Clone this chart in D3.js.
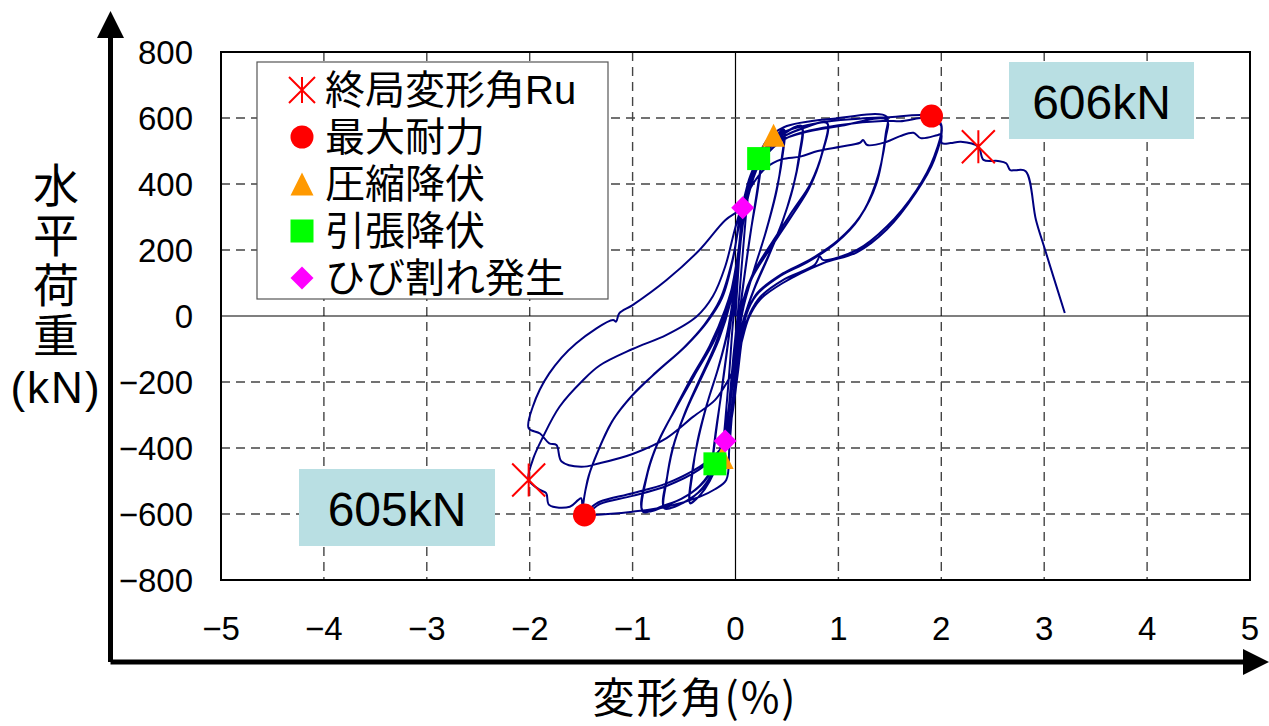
<!DOCTYPE html>
<html>
<head>
<meta charset="utf-8">
<script src="https://cdn.jsdelivr.net/npm/d3@7"></script>
<style>
  html, body { margin: 0; padding: 0; background: #fff; }
  svg { display: block; }
  .tick-label { font-family: "Liberation Sans", Arial, sans-serif; font-size: 33px; fill: #000; }
  .jp { font-family: "Noto Sans CJK JP", sans-serif; fill: #000; }
  .legend-label { font-family: "Liberation Sans", "Noto Sans CJK JP", sans-serif; font-size: 40px; fill: #000; }
</style>
</head>
<body>
<svg id="chart" width="1269" height="726"></svg>
<script>
// deformation angle (%) / horizontal load (kN)
const cycle025 = [
    [0, 0], [0.03, 150], [0.07, 328], [0.12, 370],
    [0.1, 300], [0.06, 150], [0.02, 0], [-0.02, -120], [-0.06, -260], [-0.1, -379], [-0.12, -400],
    [-0.1, -320], [-0.06, -170], [-0.03, -40], [0, 60], [0.04, 190], [0.09, 340], [0.15, 420], [0.25, 480],
    [0.22, 400], [0.16, 280], [0.1, 150], [0.05, 30], [0.01, -90], [-0.05, -250], [-0.1, -360], [-0.15, -420], [-0.22, -455],
    [-0.2, -380], [-0.15, -260], [-0.09, -120], [-0.04, 0], [0.01, 120], [0.06, 270], [0.12, 380], [0.18, 440], [0.25, 478],
    [0.22, 390], [0.15, 260], [0.09, 130], [0.04, 10], [0, -110], [-0.06, -270], [-0.12, -380], [-0.17, -430], [-0.22, -452]
];
const cycle050 = [
    [-0.2, -370], [-0.14, -240], [-0.08, -100], [-0.03, 20], [0.02, 150], [0.07, 290], [0.14, 400], [0.24, 480], [0.35, 530], [0.47, 565],
    [0.45, 480], [0.4, 380], [0.3, 260], [0.18, 140], [0.08, 30], [0.02, -80], [-0.03, -200], [-0.08, -320], [-0.15, -420], [-0.25, -500], [-0.35, -545], [-0.44, -568],
    [-0.42, -480], [-0.37, -380], [-0.28, -270], [-0.17, -160], [-0.08, -50], [-0.02, 60], [0.03, 190], [0.09, 320], [0.17, 420], [0.28, 500], [0.38, 540], [0.47, 562],
    [0.45, 470], [0.39, 370], [0.29, 250], [0.17, 130], [0.07, 20], [0.01, -90], [-0.04, -220], [-0.09, -340], [-0.17, -440], [-0.27, -510], [-0.36, -548], [-0.44, -566]
];
const cycle067 = [
    [-0.42, -470], [-0.36, -370], [-0.27, -260], [-0.16, -150], [-0.07, -40], [-0.01, 70], [0.04, 200], [0.1, 330], [0.2, 440], [0.33, 510], [0.48, 555], [0.64, 576],
    [0.62, 490], [0.56, 390], [0.46, 290], [0.33, 190], [0.19, 90], [0.08, -10], [0.01, -120], [-0.05, -260], [-0.11, -380], [-0.2, -470], [-0.34, -530], [-0.5, -565], [-0.69, -583],
    [-0.67, -500], [-0.61, -400], [-0.5, -300], [-0.36, -200], [-0.2, -90], [-0.08, 20], [0, 130], [0.05, 250], [0.12, 370], [0.24, 470], [0.4, 535], [0.64, 574],
    [0.62, 480], [0.55, 380], [0.45, 280], [0.32, 180], [0.18, 80], [0.07, -20], [0, -140], [-0.06, -280], [-0.13, -400], [-0.24, -485], [-0.4, -545], [-0.69, -581]
];
const cycle100 = [
    [-0.66, -480], [-0.59, -380], [-0.47, -280], [-0.32, -180], [-0.16, -70], [-0.05, 40], [0.02, 160], [0.07, 280], [0.14, 390], [0.26, 480], [0.45, 540], [0.68, 572], [0.89, 586],
    [0.85, 503], [0.73, 402], [0.56, 321], [0.37, 230], [0.17, 129], [0.075, 48], [0.02, -60], [-0.03, -200], [-0.08, -320], [-0.16, -420], [-0.3, -500], [-0.5, -550], [-0.7, -575], [-0.9, -593],
    [-0.87, -497], [-0.77, -396], [-0.61, -295], [-0.44, -194], [-0.25, -90], [-0.1, 20], [0, 130], [0.05, 250], [0.11, 360], [0.22, 460], [0.4, 530], [0.65, 568], [0.89, 584],
    [0.84, 490], [0.72, 390], [0.55, 305], [0.36, 215], [0.16, 115], [0.06, 30], [0.01, -80], [-0.04, -220], [-0.1, -340], [-0.19, -440], [-0.35, -515], [-0.6, -565], [-0.9, -590]
];
const cycle150 = [
    [-0.86, -480], [-0.75, -380], [-0.58, -280], [-0.4, -180], [-0.2, -70], [-0.07, 40], [0.02, 180], [0.08, 330], [0.18, 450], [0.3, 530], [0.47, 572], [0.95, 598], [1.47, 604],
    [1.46, 553], [1.37, 402], [1.21, 301], [1.0, 230], [0.72, 170], [0.46, 129], [0.21, 69], [0.11, 8], [0.04, -100], [-0.02, -250], [-0.06, -400], [-0.09, -497], [-0.2, -525], [-0.35, -548], [-0.67, -578], [-1.0, -593], [-1.39, -603], [-1.47, -603],
    [-1.44, -500], [-1.35, -420], [-1.2, -320], [-1.0, -240], [-0.77, -170], [-0.5, -95], [-0.3, -25], [-0.15, 50], [-0.03, 170], [0.06, 320], [0.15, 430], [0.3, 510], [0.63, 553], [1.0, 575], [1.47, 594],
    [1.46, 540], [1.36, 400], [1.2, 295], [0.98, 222], [0.7, 163], [0.44, 122], [0.2, 62], [0.1, 0], [0.03, -110], [-0.03, -260], [-0.1, -380], [-0.18, -416], [-0.35, -457], [-0.67, -507], [-1.0, -537], [-1.32, -563], [-1.47, -590]
];
const cycle200 = [
    [-1.43, -490], [-1.33, -405], [-1.18, -310], [-0.98, -232], [-0.75, -165], [-0.48, -90], [-0.28, -20], [-0.13, 55], [-0.02, 180], [0.06, 330], [0.2, 460], [0.4, 545], [0.8, 585], [1.2, 598], [1.47, 602], [1.9, 606], [2.0, 579],
    [1.93, 483], [1.76, 382], [1.47, 271], [1.18, 200], [0.85, 170], [0.82, 180], [0.77, 155], [0.46, 109], [0.24, 58], [0.14, 8], [0.075, -52], [0.02, -180], [-0.05, -330], [-0.12, -400], [-0.35, -465], [-0.67, -515], [-1.0, -545], [-1.32, -570], [-1.47, -603],
    [-1.5, -552], [-1.53, -558], [-1.61, -578], [-1.81, -573], [-1.84, -537], [-1.9, -527], [-2.01, -497],
    [-1.97, -436], [-1.87, -366], [-1.71, -275], [-1.48, -194], [-1.32, -150], [-1.0, -100], [-0.67, -57], [-0.38, -2], [-0.22, 60], [-0.1, 150], [0, 270], [0.1, 370], [0.25, 470], [0.5, 540], [1.0, 578], [1.47, 592], [1.6, 590], [1.9, 600], [2.0, 575],
    [1.93, 472], [1.75, 372], [1.47, 262], [1.18, 193], [0.85, 160], [0.46, 100], [0.24, 50], [0.13, -5], [0.05, -90], [-0.03, -170], [-0.1, -210], [-0.2, -255], [-0.41, -305], [-0.67, -370], [-1.0, -418], [-1.32, -446], [-1.5, -457], [-1.69, -441], [-1.74, -391], [-1.81, -386], [-1.9, -356], [-2.01, -340]
];
const finalPush = [
    [-1.97, -275], [-1.81, -174], [-1.55, -83], [-1.19, -12], [-1.16, -17], [-1.13, 8], [-1.0, 33], [-0.67, 109], [-0.35, 200], [-0.1, 290], [0.07, 330], [0.15, 390], [0.3, 450], [0.45, 475],
    [0.63, 483], [0.8, 500], [1.02, 513], [1.21, 525], [1.24, 533], [1.28, 518], [1.47, 528], [1.6, 545], [1.73, 555], [1.8, 539], [1.96, 548], [2.0, 551],
    [2.005, 524], [2.09, 524], [2.19, 528], [2.36, 513], [2.41, 473], [2.55, 470], [2.63, 463], [2.67, 442], [2.72, 442], [2.82, 439], [2.92, 291], [3.0, 209], [3.2, 9]
];

// event points
const ultimatePts = [[2.36, 513], [-2.01, -497]];
const maxLoadPts = [[1.905, 606], [-1.468, -603]];
const compYieldPts = [[0.37, 548], [-0.13, -429]];
const tensYieldPts = [[0.225, 477], [-0.2, -448]];
const crackPts = [[0.07, 328], [-0.1, -379]];

const xTicks = [-5, -4, -3, -2, -1, 0, 1, 2, 3, 4, 5];
const yTicks = [-800, -600, -400, -200, 0, 200, 400, 600, 800];
const legendLabels = ['終局変形角Ru', '最大耐力', '圧縮降伏', '引張降伏', 'ひび割れ発生'];
const peakLabels = ['606kN', '605kN'];

const RED = '#ff0000', ORANGE = '#ff9900', GREEN = '#00ff00', MAGENTA = '#ff00ff', NAVY = '#000080';

const svg = d3.select('#chart');
const x = d3.scaleLinear().domain([-5, 5]).range([221, 1250]);
const y = d3.scaleLinear().domain([-800, 800]).range([580, 52]);

// grid
const grid = svg.append('g');
grid.selectAll('.vg')
    .data(xTicks.filter(d => d !== -5 && d !== 5))
    .enter()
    .append('line')
    .attr('x1', d => x(d)).attr('x2', d => x(d))
    .attr('y1', y(800)).attr('y2', y(-800))
    .attr('stroke', d => d === 0 ? '#000' : '#444')
    .attr('stroke-width', d => d === 0 ? 1.2 : 1.4)
    .attr('stroke-dasharray', d => d === 0 ? null : '9,6');
grid.selectAll('.hg')
    .data(yTicks.filter(d => d !== -800 && d !== 800))
    .enter()
    .append('line')
    .attr('x1', x(-5)).attr('x2', x(5))
    .attr('y1', d => y(d)).attr('y2', d => y(d))
    .attr('stroke', d => d === 0 ? '#000' : '#444')
    .attr('stroke-width', d => d === 0 ? 1.2 : 1.4)
    .attr('stroke-dasharray', d => d === 0 ? null : '9,6');

svg.append('rect')
    .attr('x', x(-5)).attr('y', y(800))
    .attr('width', x(5) - x(-5)).attr('height', y(-800) - y(800))
    .attr('fill', 'none').attr('stroke', '#000').attr('stroke-width', 2);

// tick labels
svg.append('g').selectAll('text')
    .data(xTicks)
    .enter()
    .append('text')
    .attr('class', 'tick-label')
    .attr('x', d => x(d))
    .attr('y', 640)
    .attr('text-anchor', 'middle')
    .text(d => d < 0 ? '\u2212' + Math.abs(d) : d);
svg.append('g').selectAll('text')
    .data(yTicks)
    .enter()
    .append('text')
    .attr('class', 'tick-label')
    .attr('x', 193)
    .attr('y', d => y(d) + 12)
    .attr('text-anchor', 'end')
    .text(d => d < 0 ? '\u2212' + Math.abs(d) : d);

// hysteresis curve
const allPts = [].concat(cycle025, cycle050, cycle067, cycle100, cycle150, cycle200, finalPush);
const line = d3.line()
    .x(d => x(d[0]))
    .y(d => y(d[1]))
    .curve(d3.curveCatmullRom.alpha(0.5));
svg.append('path')
    .attr('d', line(allPts))
    .attr('fill', 'none')
    .attr('stroke', NAVY)
    .attr('stroke-width', 2)
    .attr('stroke-linejoin', 'round');

// markers
const asterisk = (cx, cy, r) => `M${cx},${cy - r}L${cx},${cy + r}M${cx - r},${cy - r}L${cx + r},${cy + r}M${cx - r},${cy + r}L${cx + r},${cy - r}`;
const triangle = (cx, cy, s) => `M${cx},${cy - s / 2}L${cx + s / 2},${cy + s / 2}L${cx - s / 2},${cy + s / 2}Z`;
const diamond = (cx, cy, s) => `M${cx},${cy - s / 2}L${cx + s / 2},${cy}L${cx},${cy + s / 2}L${cx - s / 2},${cy}Z`;

const marks = svg.append('g');
marks.selectAll('.tri').data(compYieldPts).enter().append('path')
    .attr('d', d => triangle(x(d[0]), y(d[1]), 23)).attr('fill', ORANGE);
marks.selectAll('.sq').data(tensYieldPts).enter().append('rect')
    .attr('x', d => x(d[0]) - 11.5).attr('y', d => y(d[1]) - 11.5)
    .attr('width', 23).attr('height', 23).attr('fill', GREEN);
marks.selectAll('.dia').data(crackPts).enter().append('path')
    .attr('d', d => diamond(x(d[0]), y(d[1]), 23)).attr('fill', MAGENTA);
marks.selectAll('.cir').data(maxLoadPts).enter().append('circle')
    .attr('cx', d => x(d[0])).attr('cy', d => y(d[1])).attr('r', 11.5).attr('fill', RED);
marks.selectAll('.ast').data(ultimatePts).enter().append('path')
    .attr('d', d => asterisk(x(d[0]), y(d[1]), 16.5))
    .attr('fill', 'none').attr('stroke', RED).attr('stroke-width', 2);

// peak value boxes
const boxes = [
    { label: peakLabels[0], x0: 1009, y0: 62, w: 185, h: 77 },
    { label: peakLabels[1], x0: 299, y0: 469, w: 196, h: 77 }
];
boxes.forEach(b => {
    svg.append('rect').attr('x', b.x0).attr('y', b.y0).attr('width', b.w).attr('height', b.h).attr('fill', '#b9dfe3');
    svg.append('text')
        .attr('x', b.x0 + b.w / 2).attr('y', b.y0 + 57)
        .attr('text-anchor', 'middle')
        .style('font-family', '"Liberation Sans", Arial, sans-serif')
        .style('font-size', '48px')
        .text(b.label);
});

// legend
const legend = svg.append('g');
legend.append('rect')
    .attr('x', 257).attr('y', 62).attr('width', 351).attr('height', 237)
    .attr('fill', '#fff').attr('stroke', '#555').attr('stroke-width', 1.2);
const rowY = i => 90 + i * 47;
const mx = 302;
legend.append('path').attr('d', asterisk(mx, rowY(0), 13)).attr('fill', 'none').attr('stroke', RED).attr('stroke-width', 2);
legend.append('circle').attr('cx', mx).attr('cy', rowY(1)).attr('r', 11.5).attr('fill', RED);
legend.append('path').attr('d', triangle(mx, rowY(2), 23)).attr('fill', ORANGE);
legend.append('rect').attr('x', mx - 11.5).attr('y', rowY(3) - 11.5).attr('width', 23).attr('height', 23).attr('fill', GREEN);
legend.append('path').attr('d', diamond(mx, rowY(4), 23)).attr('fill', MAGENTA);
legend.selectAll('text')
    .data(legendLabels)
    .enter()
    .append('text')
    .attr('class', 'legend-label')
    .attr('x', 325)
    .attr('y', (d, i) => rowY(i) + 14)
    .text(d => d);

// axis arrows
svg.append('path')
    .attr('d', 'M110.5,662V36M110.5,662H1246')
    .attr('fill', 'none').attr('stroke', '#000').attr('stroke-width', 5);
svg.append('path').attr('d', 'M110.5,11L124,38H97Z').attr('fill', '#000');
svg.append('path').attr('d', 'M1269,662L1243,649V675Z').attr('fill', '#000');

// axis titles: the kanji run vertically, the unit sits below them
svg.append('text')
    .attr('class', 'jp')
    .attr('x', 56).attr('y', 162)
    .style('writing-mode', 'vertical-rl')
    .style('text-orientation', 'upright')
    .style('font-size', '46px')
    .style('letter-spacing', '4px')
    .text('水平荷重');
svg.append('text')
    .attr('x', 56).attr('y', 403)
    .attr('text-anchor', 'middle')
    .style('font-family', '"Liberation Sans", Arial, sans-serif')
    .style('font-size', '44px')
    .style('letter-spacing', '2px')
    .text('(kN)');
svg.append('text')
    .attr('class', 'jp')
    .attr('x', 695).attr('y', 713)
    .attr('text-anchor', 'middle')
    .style('font-size', '42px')
    .style('letter-spacing', '2px')
    .text('変形角(%)');
</script>
</body>
</html>
